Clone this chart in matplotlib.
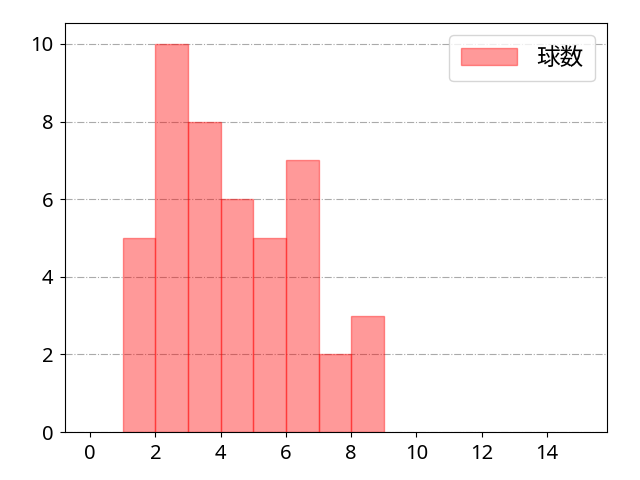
import matplotlib
matplotlib.use('Agg')
import matplotlib.pyplot as plt
import numpy as np

plt.rcParams['font.family'] = ['Noto Sans', 'Noto Sans CJK JP', 'DejaVu Sans']

# histogram bins (left edges) and counts
bin_lefts = [1, 2, 3, 4, 5, 6, 7, 8]
counts = [5, 10, 8, 6, 5, 7, 2, 3]
label = '球数'

fig = plt.figure(figsize=(6.4, 4.8), dpi=100)
ax = fig.add_axes([65 / 640, 48 / 480, 542 / 640, 409 / 480])
ax.bar(bin_lefts, counts, width=1, align='edge', color='red', alpha=0.4,
       edgecolor='red', linewidth=1, label=label)

ax.set_xlim(-0.77, 15.84)
ax.set_ylim(0, 10.54)
ax.set_xticks(np.arange(0, 15, 2))
ax.set_yticks(np.arange(0, 11, 2))
ax.tick_params(labelsize=14.5, pad=5)
ax.grid(axis='y', linestyle='-.', color='#aaaaaa', linewidth=0.8)
ax.set_axisbelow(True)
ax.legend(loc='upper right', prop={'family': ['Noto Sans CJK JP'], 'size': 17},
          borderpad=0.5, handlelength=2.4)

fig.savefig('out.png')
